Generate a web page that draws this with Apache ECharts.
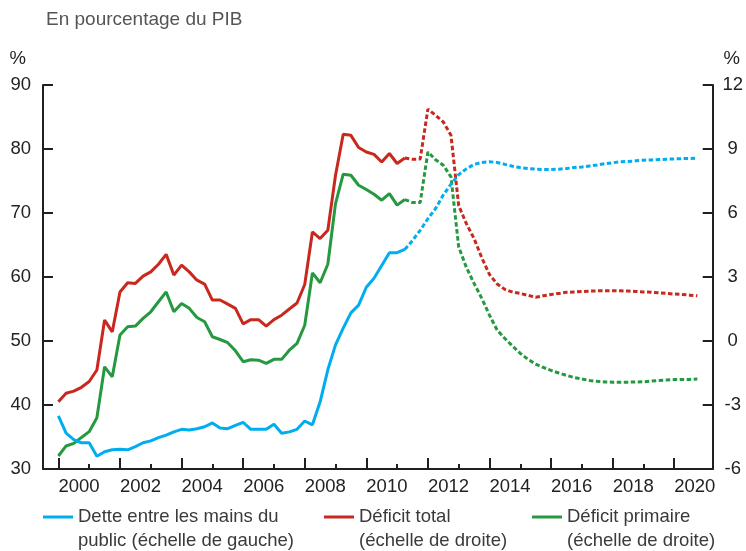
<!DOCTYPE html>
<html>
<head>
<meta charset="utf-8">
<script src="https://cdn.jsdelivr.net/npm/echarts@6/dist/echarts.min.js"></script>
<style>
  html, body { margin: 0; padding: 0; background: #fff; }
  #chart { width: 746px; height: 551px; }
</style>
</head>
<body>
<div id="chart"></div>
<script>
// quarterly points, 2000T1 .. 2020T4
var debt = [
  38.3, 35.6, 34.6, 34.1, 34.1, 32.0, 32.7, 33.0, 33.1, 33.0,
  33.5, 34.1, 34.4, 34.9, 35.3, 35.8, 36.2, 36.1, 36.3, 36.6,
  37.2, 36.4, 36.3, 36.8, 37.3, 36.2, 36.2, 36.2, 37.0, 35.6,
  35.8, 36.2, 37.5, 36.9, 40.5, 45.5, 49.4, 52.0, 54.4, 55.6,
  58.4, 59.8, 61.8, 63.8, 63.8, 64.3, 65.7, 67.3, 69.1, 70.7,
  72.8, 74.5, 76.0, 76.9, 77.6, 77.9, 78.0, 77.9, 77.6, 77.3,
  77.1, 76.95, 76.85, 76.8, 76.8, 76.85, 76.95, 77.1, 77.2, 77.35,
  77.5, 77.7, 77.85, 78.0, 78.05, 78.15, 78.25, 78.3, 78.35, 78.4,
  78.45, 78.5, 78.5, 78.55
]
var deficitTotal = [
  -2.85, -2.45, -2.35, -2.17, -1.9, -1.36, 0.98, 0.43, 2.3, 2.73,
  2.7, 3.04, 3.24, 3.6, 4.06, 3.09, 3.56, 3.24, 2.85, 2.67,
  1.92, 1.92, 1.73, 1.53, 0.8, 1.0, 1.0, 0.7, 1.0, 1.21,
  1.5, 1.78, 2.65, 5.11, 4.8, 5.19, 7.77, 9.69, 9.64, 9.07,
  8.86, 8.75, 8.39, 8.79, 8.32, 8.58, 8.52, 8.53, 10.87, 10.58,
  10.27, 9.64, 6.35, 5.5, 4.8, 3.9, 3.12, 2.67, 2.42, 2.29,
  2.23, 2.14, 2.05, 2.12, 2.18, 2.23, 2.28, 2.3, 2.32, 2.34,
  2.35, 2.35, 2.35, 2.35, 2.34, 2.32, 2.3, 2.29, 2.26, 2.23,
  2.2, 2.18, 2.15, 2.12
]
var deficitPrimaire = [
  -5.39, -4.92, -4.8, -4.52, -4.25, -3.6, -1.21, -1.68, 0.28, 0.67,
  0.7, 1.06, 1.37, 1.84, 2.3, 1.37, 1.76, 1.53, 1.1, 0.9,
  0.2, 0.07, -0.08, -0.46, -0.97, -0.88, -0.9, -1.05, -0.86, -0.86,
  -0.43, -0.11, 0.74, 3.19, 2.73, 3.6, 6.44, 7.82, 7.77, 7.3,
  7.1, 6.88, 6.6, 6.91, 6.37, 6.63, 6.49, 6.49, 8.86, 8.5,
  8.24, 7.69, 4.41, 3.45, 2.7, 2.0, 1.21, 0.51, 0.12, -0.24,
  -0.58, -0.86, -1.08, -1.24, -1.38, -1.5, -1.61, -1.71, -1.78, -1.85,
  -1.89, -1.92, -1.93, -1.93, -1.93, -1.92, -1.91, -1.88, -1.85, -1.83,
  -1.81, -1.8, -1.8, -1.78
]
var histEnd = 45 // dernier trimestre observé (2011T2), projections ensuite
var yearLabels = ['2000', '2002', '2004', '2006', '2008', '2010', '2012', '2014', '2016', '2018', '2020']
var minorYears = ['2001', '2003', '2005', '2007', '2009', '2011', '2013', '2015', '2017', '2019']
var names = {
  debt: 'Dette entre les mains du\npublic (échelle de gauche)',
  total: 'Déficit total\n(échelle de droite)',
  prim: 'Déficit primaire\n(échelle de droite)'
}

// axe des trimestres : 2 trimestres avant 2000 et 2 après 2020T4
var cats = []
for (var k = 0; k < 88; k++) cats.push((1999.5 + 0.25 * k).toFixed(2))
var pad = 2

function part (arr, from, to) {
  var out = []
  for (var k = 0; k < cats.length; k++) {
    var i = k - pad
    out.push(i >= from && i <= to && i < arr.length ? arr[i] : null)
  }
  return out
}

var font = "'Liberation Sans', Arial, sans-serif"
var ink = '#231f20'
var blue = '#00aeef'
var red = '#c8281e'
var green = '#24993f'
var dots = [4.5, 2.5]

function line (name, arr, color, yIdx, proj) {
  return {
    name: name,
    type: 'line',
    yAxisIndex: yIdx,
    data: proj ? part(arr, histEnd, 999) : part(arr, 0, histEnd),
    symbol: 'none',
    lineStyle: { color: color, width: 3, type: proj ? dots : 'solid' },
    itemStyle: { color: color }
  }
}

// ligne vide en tête : le trait se centre alors sur la 1re ligne du texte
function legend (name, left) {
  return {
    data: [name],
    left: left,
    top: 481,
    padding: 0,
    icon: 'rect',
    itemWidth: 30,
    itemHeight: 3,
    formatter: function (n) { return '\n' + n },
    textStyle: { fontFamily: font, fontSize: 18.5, lineHeight: 24, color: '#3a3a3a' }
  }
}

function yearOf (v) { return String(Math.floor(+v)) }
function isMajor (i, v) { return v.slice(-3) === '.00' && yearLabels.indexOf(yearOf(v)) >= 0 }
function isMinor (i, v) { return v.slice(-3) === '.00' && minorYears.indexOf(yearOf(v)) >= 0 }

var chart = echarts.init(document.getElementById('chart'))
chart.setOption({
  animation: false,
  title: {
    text: 'En pourcentage du PIB',
    left: 41,
    top: 5,
    textStyle: { fontFamily: font, fontSize: 19, fontWeight: 'normal', color: '#555' }
  },
  legend: [
    legend(names.debt, 43),
    legend(names.total, 324),
    legend(names.prim, 532)
  ],
  grid: { left: 43, right: 32, top: 85, bottom: 82 },
  xAxis: [
    {
      type: 'category',
      data: cats,
      boundaryGap: false,
      axisLine: { onZero: false, lineStyle: { color: ink, width: 2 } },
      axisTick: { inside: true, length: 11, lineStyle: { color: ink, width: 2 }, interval: isMajor },
      axisLabel: {
        interval: isMajor,
        formatter: yearOf,
        showMinLabel: true,
        showMaxLabel: true,
        align: 'left',
        margin: 8,
        fontFamily: font,
        fontSize: 18.5,
        color: '#222'
      }
    },
    {
      type: 'category',
      data: cats,
      boundaryGap: false,
      position: 'bottom',
      axisLine: { show: false, onZero: false },
      axisTick: { show: true, inside: true, length: 5, lineStyle: { color: ink, width: 2 }, interval: isMinor },
      axisLabel: { show: false }
    }
  ],
  yAxis: [
    {
      type: 'value',
      min: 30,
      max: 90,
      interval: 10,
      position: 'left',
      name: '%',
      nameGap: 17,
      nameTextStyle: { fontFamily: font, fontSize: 18.5, color: '#222', align: 'right', padding: [0, 17, 0, 0] },
      axisLine: { show: true, lineStyle: { color: ink, width: 2 } },
      axisTick: { show: true, inside: true, length: 10, lineStyle: { color: ink, width: 2 } },
      axisLabel: { margin: 12, fontFamily: font, fontSize: 18.5, color: '#222' },
      splitLine: { show: false }
    },
    {
      type: 'value',
      min: -6,
      max: 12,
      interval: 3,
      position: 'right',
      name: '%',
      nameGap: 17,
      nameTextStyle: { fontFamily: font, fontSize: 18.5, color: '#222', align: 'center', padding: [0, 0, 0, 38] },
      axisLine: { show: true, lineStyle: { color: ink, width: 2 } },
      axisTick: { show: true, inside: true, length: 10, lineStyle: { color: ink, width: 2 } },
      axisLabel: { margin: 20, align: 'center', fontFamily: font, fontSize: 18.5, color: '#222' },
      splitLine: { show: false }
    }
  ],
  series: [
    line(names.prim, deficitPrimaire, green, 1, false),
    line(names.prim, deficitPrimaire, green, 1, true),
    line(names.total, deficitTotal, red, 1, false),
    line(names.total, deficitTotal, red, 1, true),
    line(names.debt, debt, blue, 0, false),
    line(names.debt, debt, blue, 0, true)
  ]
})
</script>
</body>
</html>
